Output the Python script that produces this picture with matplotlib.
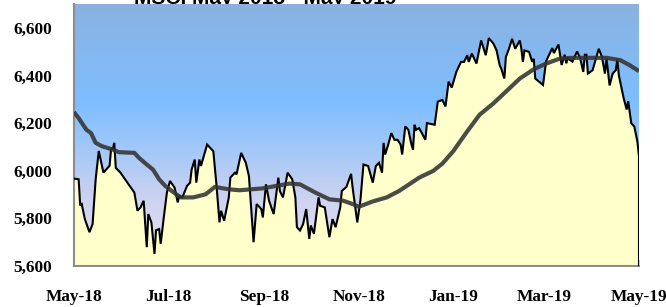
import numpy as np
import matplotlib
matplotlib.use("Agg")
import matplotlib.pyplot as plt
import matplotlib.dates as mdates
from matplotlib.colors import LinearSegmentedColormap

# ---- data ----
title = "MSCI May 2018 - May 2019"
start_date = "2018-05-01"
end_date = "2019-05-01"

# daily index level (day offset from start_date, value)
idx_days = [0, 3, 4, 5, 7, 10, 12, 14, 16, 19, 23, 24, 25, 26, 27, 30, 39, 41, 43, 45,
            47, 48, 50, 52, 53, 55, 56, 58, 60, 62, 65, 67, 68, 70, 73, 75, 76, 78, 79, 81,
            82, 86, 88, 90, 91, 92, 94, 95, 97, 100, 101, 104, 105, 108, 111, 113, 116, 118, 121, 122,
            124, 126, 129, 132, 133, 135, 138, 141, 143, 144, 146, 148, 150, 152, 153, 155, 158, 159, 162, 165,
            167, 169, 172, 173, 176, 179, 180, 183, 185, 187, 190, 193, 195, 197, 199, 200, 201, 203, 205, 207,
            209, 211, 212, 214, 216, 218, 219, 220, 221, 223, 227, 228, 233, 235, 238, 240, 242, 244, 247, 250,
            252, 254, 255, 257, 260, 263, 264, 266, 268, 271, 273, 275, 276, 278, 279, 281, 283, 285, 288, 289,
            290, 291, 294, 296, 297, 298, 303, 305, 309, 310, 313, 314, 315, 317, 318, 319, 322, 325, 327, 329,
            330, 331, 332, 335, 337, 339, 341, 343, 344, 346, 348, 350, 351, 352, 355, 357, 358, 360, 362, 364,
            365]
idx_values = [5967, 5964, 5854, 5860, 5797, 5742, 5776, 5964, 6083, 5992, 6021, 6096, 6089, 6117, 6012, 5992, 5908, 5832, 5846, 5874,
              5679, 5818, 5783, 5651, 5750, 5755, 5693, 5804, 5908, 5957, 5929, 5867, 5895, 5888, 5936, 5950, 6005, 6047, 5950, 6047,
              6020, 6110, 6096, 6082, 6012, 5943, 5783, 5832, 5790, 5888, 5971, 5992, 5985, 6075, 6033, 5978, 5700, 5860, 5839, 5804,
              5943, 5874, 5818, 5971, 5915, 5888, 5992, 5964, 5888, 5763, 5749, 5776, 5839, 5714, 5770, 5735, 5888, 5853, 5846, 5721,
              5797, 5763, 5846, 5915, 5932, 5987, 5929, 5783, 5874, 6026, 6020, 5950, 6020, 6033, 5992, 6117, 6068, 6110, 6158, 6130,
              6130, 6110, 6068, 6186, 6172, 6110, 6089, 6193, 6172, 6179, 6130, 6200, 6193, 6290, 6297, 6270, 6374, 6349, 6415, 6457,
              6457, 6485, 6457, 6492, 6450, 6547, 6526, 6485, 6557, 6533, 6505, 6443, 6429, 6387, 6478, 6512, 6554, 6512, 6547, 6512,
              6457, 6505, 6499, 6457, 6470, 6387, 6360, 6460, 6515, 6494, 6530, 6487, 6444, 6487, 6451, 6472, 6458, 6501, 6472, 6415,
              6487, 6487, 6408, 6422, 6467, 6512, 6479, 6408, 6472, 6358, 6408, 6422, 6467, 6400, 6307, 6257, 6292, 6200, 6185, 6121,
              6060]

# moving average
ma_days = [0, 3, 8, 11, 14, 18, 25, 29, 39, 42, 47, 51, 55, 59, 66, 69, 77, 85, 91, 100,
           107, 122, 139, 146, 156, 165, 174, 180, 184, 193, 202, 210, 223, 232, 238, 245, 254, 262, 271, 279,
           288, 297, 305, 314, 322, 335, 344, 353, 359, 365]
ma_values = [6246, 6221, 6172, 6158, 6117, 6103, 6089, 6078, 6075, 6054, 6026, 6005, 5964, 5936, 5901, 5888, 5888, 5901, 5932, 5922,
             5918, 5926, 5946, 5943, 5908, 5880, 5874, 5860, 5849, 5871, 5888, 5915, 5971, 5999, 6030, 6082, 6165, 6235, 6283, 6332,
             6387, 6426, 6450, 6471, 6474, 6474, 6474, 6464, 6443, 6418]

y_min, y_max = 5600, 6700
y_ticks = [5600, 5800, 6000, 6200, 6400, 6600]

# ---- figure ----
W, H = 666, 307
fig = plt.figure(figsize=(W / 100, H / 100), dpi=100)
ax = fig.add_axes([74 / W, 1 - 266 / H, (639 - 74) / W, (266 - 4) / H])

t0 = np.datetime64(start_date)
idx_dates = t0 + np.array(idx_days, dtype="timedelta64[D]")
ma_dates = t0 + np.array(ma_days, dtype="timedelta64[D]")
x0 = mdates.date2num(t0)
x1 = mdates.date2num(np.datetime64(end_date))

# gradient background
cmap = LinearSegmentedColormap.from_list(
    "bg", [(0.0, "#ECE2F0"), (0.25, "#CDD3F0"), (0.62, "#7EBEFF"), (1.0, "#8AB2E2")])
grad = np.linspace(1, 0, 256).reshape(-1, 1)
ax.imshow(grad, cmap=cmap, aspect="auto", extent=[0, 1, 0, 1],
          transform=ax.transAxes, zorder=0, interpolation="bicubic")

ax.fill_between(idx_dates, idx_values, y_min, color="#FFFFCC", lw=0, zorder=2)
ax.plot(np.append(idx_dates, idx_dates[-1]), np.append(idx_values, y_min),
        color="black", lw=1.5, zorder=3, solid_joinstyle="miter")
ax.plot(ma_dates, ma_values, color="#333333", lw=3.0, alpha=0.88, zorder=4,
        solid_capstyle="butt")

ax.set_xlim(x0, x1)
ax.set_ylim(y_min, y_max)

ax.set_yticks(y_ticks)
ax.yaxis.set_major_formatter(matplotlib.ticker.FuncFormatter(lambda v, p: f"{int(v):,}"))
ax.tick_params(axis="y", length=0, pad=16)

ax.xaxis.set_major_locator(mdates.MonthLocator(bymonth=[1, 3, 5, 7, 9, 11]))
ax.xaxis.set_minor_locator(mdates.MonthLocator())
ax.xaxis.set_major_formatter(mdates.DateFormatter("%b-%y"))
ax.tick_params(axis="x", which="both", direction="in", length=4, color="#909090",
               width=1.2, pad=16.5)

for lab in ax.get_xticklabels() + ax.get_yticklabels():
    lab.set_fontfamily("Liberation Serif")
    lab.set_fontweight("bold")
    lab.set_fontsize(12.4)

for s in ["top", "right"]:
    ax.spines[s].set_visible(False)
for s in ["left", "bottom"]:
    ax.spines[s].set_color("#8c8c8c")
    ax.spines[s].set_linewidth(1.5)

fig.text(265 / W, 1 - 3.5 / H, title, ha="center", va="baseline",
         fontsize=15, fontweight="bold", family="Liberation Sans", zorder=-1)

fig.savefig("out.png", dpi=100)
